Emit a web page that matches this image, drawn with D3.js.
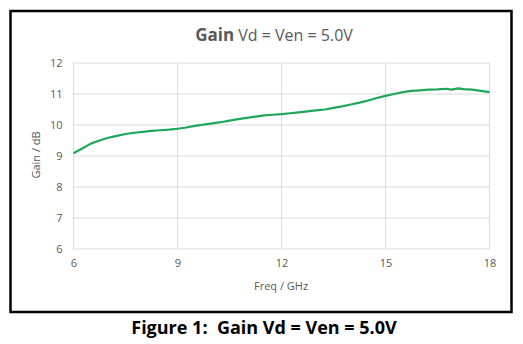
<!DOCTYPE html>
<html>
<head>
<meta charset="utf-8">
<script src="https://cdn.jsdelivr.net/npm/d3@7"></script>
<style>
html,body{margin:0;padding:0;background:#fff;}
svg{display:block;}
</style>
</head>
<body>
<svg id="chart" width="523" height="344"></svg>
<script>
const freqs = [6.0,6.25,6.5,6.75,7.0,7.25,7.5,7.75,8.0,8.25,8.5,8.75,9.0,9.25,9.5,9.75,10.0,10.25,10.5,10.75,11.0,11.25,11.5,11.75,12.0,12.25,12.5,12.75,13.0,13.25,13.5,13.75,14.0,14.25,14.5,14.75,15.0,15.25,15.5,15.75,16.0,16.25,16.5,16.75,16.9,17.1,17.25,17.5,17.75,18.0];
const gains = [9.09,9.24,9.40,9.50,9.59,9.65,9.71,9.75,9.78,9.81,9.83,9.85,9.88,9.92,9.97,10.01,10.05,10.09,10.14,10.19,10.23,10.27,10.31,10.33,10.35,10.38,10.41,10.44,10.47,10.50,10.55,10.60,10.66,10.72,10.79,10.87,10.94,11.00,11.06,11.10,11.12,11.14,11.15,11.17,11.14,11.18,11.16,11.14,11.10,11.06];
const xTicks = [6,9,12,15,18];
const yTicks = [6,7,8,9,10,11,12];

const svg = d3.select("#chart");
const font = "'Open Sans', 'Liberation Sans', sans-serif";

// outer frame
svg.append("rect").attr("x",10.5).attr("y",11).attr("width",501).attr("height",301)
  .attr("fill","#fff").attr("stroke","#000").attr("stroke-width",2.5);

const x = d3.scaleLinear().domain([6,18]).range([73.5,489.5]);
const y = d3.scaleLinear().domain([6,12]).range([249,63]);

const g = svg.append("g");
// gridlines
g.selectAll("line.h").data(yTicks).enter().append("line")
  .attr("x1",x(6)).attr("x2",x(18)).attr("y1",d=>y(d)).attr("y2",d=>y(d))
  .attr("stroke","#d9d9d9").attr("stroke-width",1);
g.selectAll("line.v").data(xTicks).enter().append("line")
  .attr("y1",y(6)).attr("y2",y(12)).attr("x1",d=>x(d)).attr("x2",d=>x(d))
  .attr("stroke","#d9d9d9").attr("stroke-width",1);

// axes labels via d3 axes
const xAxis = d3.axisBottom(x).tickValues(xTicks).tickSize(0).tickPadding(10).tickFormat(d3.format("d"));
const gx = svg.append("g").attr("transform",`translate(0,${y(6)})`).call(xAxis);
gx.select(".domain").remove();
gx.selectAll("text").attr("fill","#595959").style("font-family",font).style("font-size","11px");

const yAxis = d3.axisLeft(y).tickValues(yTicks).tickSize(0).tickPadding(11).tickFormat(d3.format("d"));
const gy = svg.append("g").attr("transform",`translate(${x(6)},0)`).call(yAxis);
gy.select(".domain").remove();
gy.selectAll("text").attr("fill","#595959").style("font-family",font).style("font-size","11px");

// line
const line = d3.line().x((d,i)=>x(freqs[i])).y(d=>y(d)).curve(d3.curveLinear);
svg.append("path").datum(gains).attr("d",line).attr("fill","none")
  .attr("stroke","#1ea75a").attr("stroke-width",2.2).attr("stroke-linejoin","round");

// title
const t = svg.append("text").attr("x",274).attr("y",41).attr("text-anchor","middle")
  .attr("fill","#595959").style("font-family",font).style("font-size","16px");
t.append("tspan").attr("font-weight","bold").style("font-size","17px").text("Gain");
t.append("tspan").text(" Vd = Ven = 5.0V");

// axis titles
svg.append("text").attr("x",281).attr("y",290).attr("text-anchor","middle")
  .attr("fill","#595959").style("font-family",font).style("font-size","11px").text("Freq / GHz");
svg.append("text").attr("transform","translate(40,155) rotate(-90)").attr("text-anchor","middle")
  .attr("fill","#595959").style("font-family",font).style("font-size","11px").text("Gain / dB");

// caption
svg.append("text").attr("x",264).attr("y",334).attr("text-anchor","middle")
  .attr("fill","#000").attr("font-weight","bold").style("font-family",font).style("font-size","18px")
  .text("Figure 1:\u00a0 Gain Vd = Ven = 5.0V");
</script>
</body>
</html>
